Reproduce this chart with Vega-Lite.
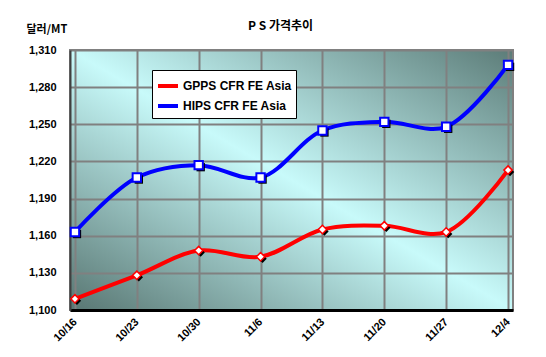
{
  "$schema": "https://vega.github.io/schema/vega-lite/v6.json",
  "width": 443,
  "height": 260,
  "autosize": "none",
  "padding": {"left": 70, "top": 50, "right": 33, "bottom": 47},
  "background": "white",
  "config": {
    "font": "Liberation Sans",
    "view": {
      "stroke": "#808080",
      "strokeWidth": 2,
      "fill": {
        "gradient": "linear",
        "x1": 1, "y1": 0, "x2": 0, "y2": 1,
        "stops": [
          {"offset": 0, "color": "#5c7c78"},
          {"offset": 0.5, "color": "#c8fafa"},
          {"offset": 1, "color": "#587672"}
        ]
      }
    }
  },
  "title": {
    "text": "P S 가격추이",
    "font": "Noto Sans CJK KR",
    "fontSize": 12,
    "fontWeight": "bold",
    "color": "black",
    "anchor": "middle",
    "dx": -11,
    "offset": -10
  },
  "datasets": {
    "prices": [
      {"i": 0, "week": "10/16", "series": "GPPS CFR FE Asia", "price": 1109},
      {"i": 1, "week": "10/23", "series": "GPPS CFR FE Asia", "price": 1128},
      {"i": 2, "week": "10/30", "series": "GPPS CFR FE Asia", "price": 1148},
      {"i": 3, "week": "11/6", "series": "GPPS CFR FE Asia", "price": 1143},
      {"i": 4, "week": "11/13", "series": "GPPS CFR FE Asia", "price": 1165},
      {"i": 5, "week": "11/20", "series": "GPPS CFR FE Asia", "price": 1168},
      {"i": 6, "week": "11/27", "series": "GPPS CFR FE Asia", "price": 1163},
      {"i": 7, "week": "12/4", "series": "GPPS CFR FE Asia", "price": 1213},
      {"i": 0, "week": "10/16", "series": "HIPS CFR FE Asia", "price": 1163},
      {"i": 1, "week": "10/23", "series": "HIPS CFR FE Asia", "price": 1207},
      {"i": 2, "week": "10/30", "series": "HIPS CFR FE Asia", "price": 1217},
      {"i": 3, "week": "11/6", "series": "HIPS CFR FE Asia", "price": 1207},
      {"i": 4, "week": "11/13", "series": "HIPS CFR FE Asia", "price": 1245},
      {"i": 5, "week": "11/20", "series": "HIPS CFR FE Asia", "price": 1252},
      {"i": 6, "week": "11/27", "series": "HIPS CFR FE Asia", "price": 1248},
      {"i": 7, "week": "12/4", "series": "HIPS CFR FE Asia", "price": 1298}
    ]
  },
  "data": {"name": "prices"},
  "encoding": {
    "x": {"field": "i", "type": "quantitative", "scale": {"domain": [-0.08, 7.08], "nice": false, "zero": false},
      "axis": {
        "values": [0, 1, 2, 3, 4, 5, 6, 7],
        "labelExpr": "['10/16','10/23','10/30','11/6','11/13','11/20','11/27','12/4'][datum.value]",
        "title": null,
        "labelAngle": -45,
        "labelAlign": "right",
        "labelBaseline": "middle",
        "labelFont": "Liberation Sans",
        "labelFontSize": 11,
        "labelFontWeight": "bold",
        "labelColor": "black",
        "labelPadding": 10,
        "labelOverlap": false,
        "ticks": false,
        "domainColor": "black",
        "domainWidth": 3,
        "grid": true,
        "gridColor": "#808080",
        "gridWidth": 2,
        "zindex": 0
      }
    },
    "y": {"field": "price", "type": "quantitative", "scale": {"domain": [1100, 1310], "nice": false, "zero": false},
      "axis": {
        "values": [1100, 1130, 1160, 1190, 1220, 1250, 1280, 1310],
        "format": ",d",
        "labelOverlap": false,
        "title": "달러/MT",
        "titleFont": "Noto Sans CJK KR",
        "titleFontSize": 11,
        "titleFontWeight": "bold",
        "titleColor": "black",
        "titleAngle": 0,
        "titleAlign": "left",
        "titleBaseline": "middle",
        "titleX": -44,
        "titleY": -21,
        "labelFont": "Liberation Sans",
        "labelFontSize": 11,
        "labelFontWeight": "bold",
        "labelColor": "black",
        "labelPadding": 14,
        "ticks": false,
        "domainColor": "#404040",
        "domainWidth": 2,
        "grid": true,
        "gridColor": "#808080",
        "gridWidth": 2,
        "zindex": 0
      }
    }
  },
  "layer": [
    {
      "mark": {"type": "line", "interpolate": "catmull-rom", "strokeWidth": 4},
      "encoding": {
        "color": {
          "field": "series", "type": "nominal",
          "scale": {"domain": ["GPPS CFR FE Asia", "HIPS CFR FE Asia"], "range": ["#ff0000", "#0000ff"]},
          "legend": {
            "title": null,
            "orient": "none",
            "legendX": 82,
            "legendY": 20,
            "fillColor": "white",
            "strokeColor": "black",
            "padding": 4,
            "symbolType": "stroke",
            "symbolSize": 400,
            "symbolStrokeWidth": 4,
            "labelFont": "Liberation Sans",
            "labelFontSize": 12,
            "labelFontWeight": "bold",
            "labelColor": "black",
            "labelOffset": 3,
            "rowPadding": -2
          }
        }
      }
    },
    {
      "transform": [{"filter": "datum.series == 'GPPS CFR FE Asia'"}],
      "mark": {"type": "point", "shape": "diamond", "filled": true, "color": "black", "xOffset": 2, "yOffset": 2, "size": 70, "opacity": 1}
    },
    {
      "transform": [{"filter": "datum.series == 'HIPS CFR FE Asia'"}],
      "mark": {"type": "point", "shape": "square", "filled": true, "color": "black", "xOffset": 2, "yOffset": 2, "size": 70, "opacity": 1}
    },
    {
      "transform": [{"filter": "datum.series == 'GPPS CFR FE Asia'"}],
      "mark": {"type": "point", "shape": "diamond", "fill": "white", "stroke": "#ff0000", "size": 70, "strokeWidth": 1.5, "opacity": 1, "fillOpacity": 1}
    },
    {
      "transform": [{"filter": "datum.series == 'HIPS CFR FE Asia'"}],
      "mark": {"type": "point", "shape": "square", "fill": "white", "stroke": "#0000ff", "size": 70, "strokeWidth": 2, "opacity": 1, "fillOpacity": 1}
    }
  ]
}
